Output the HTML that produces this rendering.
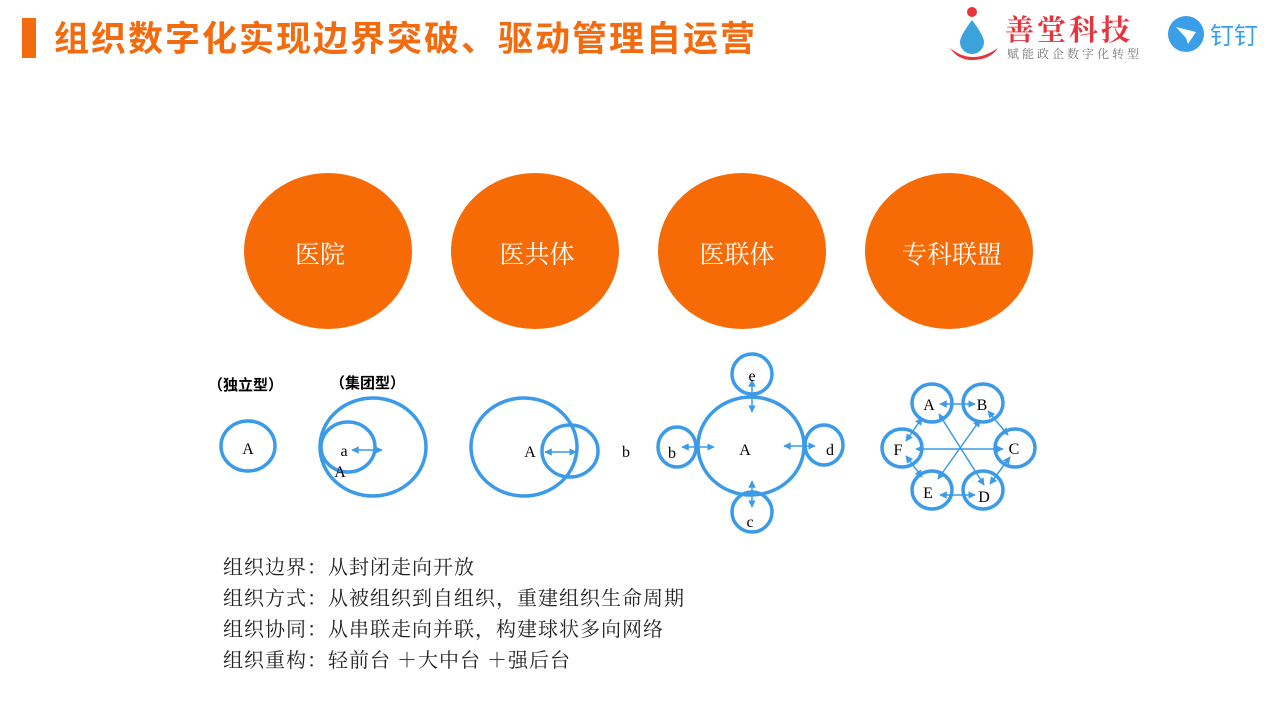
<!DOCTYPE html>
<html><head><meta charset="utf-8"><style>
body{margin:0;width:1280px;height:720px;background:#fff;overflow:hidden;position:relative;font-family:"Liberation Sans","Noto Sans CJK SC",sans-serif}
.t{position:absolute;white-space:nowrap}
</style></head><body>
<div class="t" style="left:22px;top:18px;width:14px;height:40px;background:#f26b0f"></div>
<div class="t" style="left:54px;top:17px;font-size:35px;letter-spacing:2px;font-weight:bold;color:#f26b0f;line-height:46px">组织数字化实现边界突破、驱动管理自运营</div>
<svg width="1280" height="720" style="position:absolute;left:0;top:0" font-family="Liberation Serif,Noto Serif CJK SC,serif">
<defs><marker id="m" viewBox="0 0 10 10" refX="9" refY="5" markerWidth="5" markerHeight="5" orient="auto-start-reverse"><path d="M0,0L10,5L0,10z" fill="#3c9be8"/></marker></defs>
<circle cx="972" cy="12" r="5" fill="#e8333d"/>
<path d="M972 20 Q984 36 984 42 A12 12 0 0 1 960 42 Q960 36 972 20z" fill="#3aa3dc"/>
<path d="M950 48 Q972 66 998 48 Q990 60 972 60 Q958 60 950 48z" fill="#e8333d"/>
<text x="1005" y="40" font-size="29" font-weight="bold" fill="#e8333d" letter-spacing="3">善堂科技</text>
<text x="1007" y="58" font-size="12" fill="#777" letter-spacing="3">赋能政企数字化转型</text>
<circle cx="1186" cy="34" r="18" fill="#3a9ee8"/>
<path d="M1176 27 L1196 32 L1188 44 L1186 38 z" fill="#fff"/>
<text x="1210" y="44" font-size="24" fill="#3a9ee8" font-family="Liberation Sans,Noto Sans CJK SC,sans-serif">钉钉</text>
<g fill="#f76b07">
<ellipse cx="328" cy="251" rx="84" ry="78"/><ellipse cx="535" cy="251" rx="84" ry="78"/>
<ellipse cx="742" cy="251" rx="84" ry="78"/><ellipse cx="949" cy="251" rx="84" ry="78"/></g>
<g fill="#fff" font-size="25" text-anchor="middle" font-family="Liberation Serif,Noto Serif CJK SC,serif">
<text x="320" y="263">医院</text><text x="537" y="263">医共体</text><text x="737" y="263">医联体</text><text x="952" y="263">专科联盟</text></g>
<g font-size="15" font-weight="bold" font-family="Liberation Sans,Noto Sans CJK SC,sans-serif">
<text x="208" y="390">（独立型）</text><text x="330" y="388">（集团型）</text></g>
<g fill="none" stroke="#3c9be8" stroke-width="3.5">
<ellipse cx="248" cy="446" rx="27" ry="25"/>
<ellipse cx="373" cy="447" rx="53" ry="49"/><ellipse cx="348" cy="447" rx="27" ry="25"/>
<ellipse cx="524" cy="447" rx="53" ry="49"/><ellipse cx="570" cy="451" rx="28" ry="26"/>
<ellipse cx="751" cy="446" rx="53" ry="49"/>
<ellipse cx="752" cy="374" rx="20" ry="20"/><ellipse cx="752" cy="512" rx="20" ry="20"/>
<ellipse cx="677" cy="447" rx="19" ry="20"/><ellipse cx="824" cy="445" rx="19" ry="20"/>
<ellipse cx="932" cy="403" rx="20" ry="19"/><ellipse cx="983" cy="403" rx="20" ry="19"/>
<ellipse cx="1015" cy="448" rx="20" ry="19"/><ellipse cx="902" cy="448" rx="20" ry="19"/>
<ellipse cx="932" cy="490" rx="20" ry="19"/><ellipse cx="983" cy="490" rx="20" ry="19"/>
</g>
<g stroke="#3c9be8" stroke-width="1.5" marker-start="url(#m)" marker-end="url(#m)">
<line x1="352" y1="450" x2="382" y2="450"/><line x1="545" y1="452" x2="576" y2="452"/>
<line x1="752" y1="380" x2="752" y2="412"/><line x1="752" y1="481" x2="752" y2="507"/>
<line x1="682" y1="447" x2="714" y2="447"/><line x1="784" y1="446" x2="815" y2="446"/>
<line x1="940" y1="404" x2="975" y2="404"/><line x1="940" y1="495" x2="975" y2="495"/>
<line x1="916" y1="449" x2="1003" y2="449"/>
<line x1="922" y1="418" x2="906" y2="441"/><line x1="906" y1="456" x2="922" y2="477"/>
<line x1="988" y1="411" x2="1008" y2="435"/><line x1="1010" y1="457" x2="990" y2="484"/>
<line x1="939" y1="414" x2="984" y2="485"/><line x1="980" y1="420" x2="938" y2="479"/>
</g>
<g font-size="16" text-anchor="middle">
<text x="248" y="454">A</text><text x="344" y="456">a</text><text x="340" y="477">A</text>
<text x="530" y="457">A</text><text x="626" y="457">b</text>
<text x="745" y="455">A</text><text x="752" y="381">e</text><text x="750" y="527">c</text>
<text x="672" y="458">b</text><text x="830" y="455">d</text>
<text x="929" y="410">A</text><text x="982" y="410">B</text><text x="1014" y="454">C</text>
<text x="898" y="455">F</text><text x="928" y="498">E</text><text x="984" y="502">D</text>
</g>
</svg>
<div class="t" style="left:223px;top:553px;font-size:20px;letter-spacing:1px;line-height:31px;color:#222;font-family:'Liberation Serif','Noto Serif CJK SC',serif">组织边界：从封闭走向开放<br>组织方式：从被组织到自组织，重建组织生命周期<br>组织协同：从串联走向并联，构建球状多向网络<br>组织重构：轻前台 ＋大中台 ＋强后台</div>
</body></html>
